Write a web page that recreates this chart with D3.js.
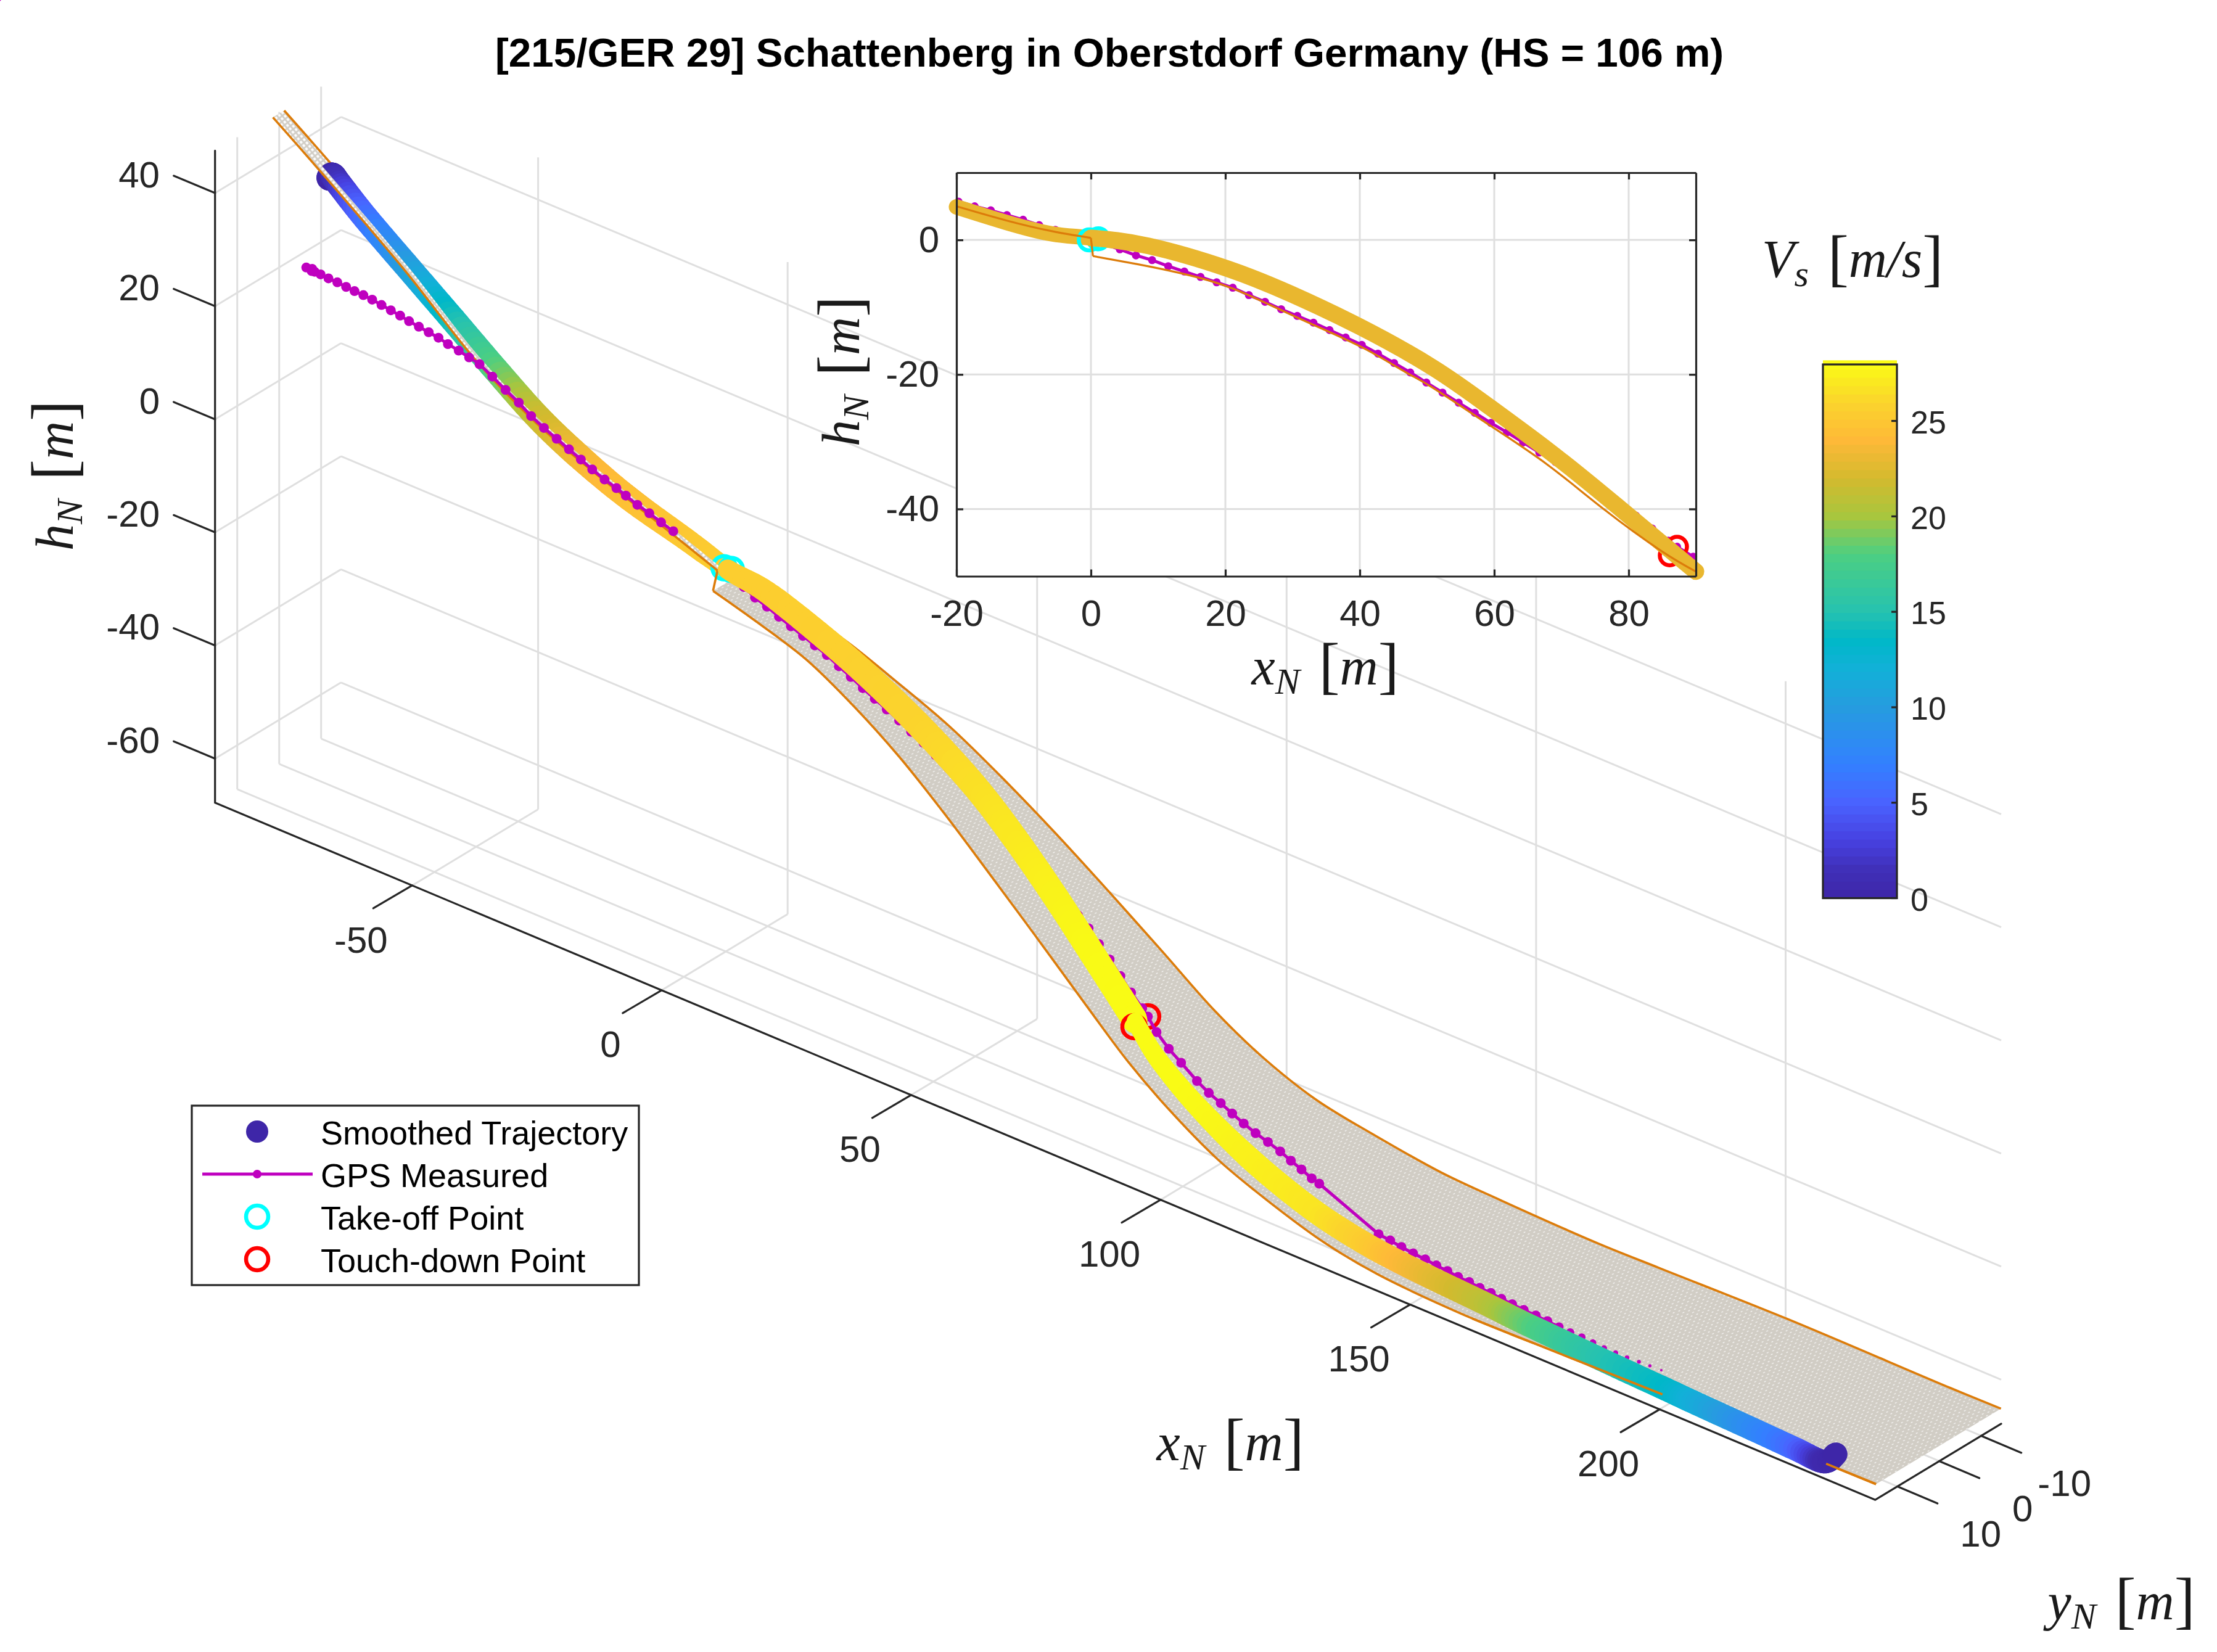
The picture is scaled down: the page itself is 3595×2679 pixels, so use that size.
<!DOCTYPE html>
<html>
<head>
<meta charset="utf-8">
<script src="https://cdn.jsdelivr.net/npm/d3@7"></script>
<style>
    body { margin: 0; background: #fff; }
    text { font-family: "Liberation Sans", Arial, sans-serif; }
    .math { font-family: "Liberation Serif", serif; }
</style>
</head>
<body>
<div id="chart"></div>
<script>
// axis limits and ticks of the 3d view
var xLimits = [-89.5, 243.2];
var yLimits = [15.3, -14.75];
var zLimits = [-67.8, 47.5];
var xTicks = [-50, 0, 50, 100, 150, 200];
var yTicks = [10, 0, -10];
var zTicks = [40, 20, 0, -20, -40, -60];

// inrun of the hill
var inrunX = [-89.5, -79.7, -63, -48.8, -36.9, -24.3, -12.5, -0.4];
var inrunZ = [47.2, 41, 29.9, 19.3, 12.8, 8, 4.2, 0.1];
var inrunYNear = 1.5;
var inrunYStrip = 0.5;
var inrunYFar = -1.2;

// landing hill and outrun
var hillX = [0.3, 10, 20, 30, 40, 50, 60, 70, 80, 90, 98.6, 109, 120, 132.1, 143.4, 162.3, 174.9, 200.4, 233.2, 243.2];
var hillZ = [-2.4, -4.3, -6.7, -11.2, -15.8, -21.4, -27.6, -34.8, -42, -49.3, -54.3, -58.5, -61.4, -64, -65.1, -65.8, -65.6, -65.1, -65.2, -65.1];
var hillYNear = [3.4, 4, 4.6, 5, 6.2, 7.5, 8.8, 9.5, 10.3, 10.9, 11.4, 12.5, 13.5, 14.3, 15, 15.1, 15.1, 15.1, 15.1, 15.1];
var hillYFar = [-2.8, -3.3, -3.9, -5, -5.8, -6.4, -7, -8, -8.8, -9.6, -10.3, -11, -12.2, -13.5, -14.3, -14.7, -14.7, -14.7, -14.7, -14.7];

// smoothed trajectory
var trajX = [-79.2, -78.8, -77.5, -72.2, -63.4, -54.7, -46.1, -37.4, -28.8, -19.3, -8.2, 0.4, 8.6, 20.4, 29.7, 40, 50.9, 59.4, 67.9, 76.4, 84.8, 86.1, 90.8, 97.4, 104.4, 112.1, 119.7, 127.5, 135.9, 143.6, 152.2, 161, 168.5, 177.8, 186.9, 199.8, 206.9, 216.6, 226.2, 231.8, 232.7];
var trajY = [0.3, 0, 0, 0, 0, 0, 0, 0, 0, 0, 0, 0, 0.4, 0.87, 0.9, 1, 1.3, 1.8, 2.7, 3.7, 4.6, 4.8, 5.76, 6.84, 7.71, 8.67, 9.23, 9.66, 9.86, 10.13, 10.44, 10.5, 11.15, 11.68, 12.46, 13.57, 13.8, 14.07, 14.25, 14.08, 12.2];
var trajZ = [39.8, 40.2, 39.2, 35.2, 29.4, 23.7, 18, 12.6, 8.6, 5.1, 2.2, -0.1, -0.9, -4.3, -8, -12.9, -19, -24.9, -31.2, -38, -45, -46.1, -49.8, -53.2, -56.2, -58.8, -61.1, -63, -64.4, -65, -65.3, -65.7, -65.7, -65.7, -65.5, -65.1, -65.2, -65.3, -65.5, -65.8, -65];
var trajV = [0, 0, 1.5, 5.5, 10, 14, 18, 21.5, 23.5, 24.5, 25, 25.5, 25.5, 25.6, 25.7, 25.9, 26.5, 27, 27.5, 27.9, 28, 28, 28, 28, 27.8, 27.5, 27.2, 26.8, 25.5, 24, 22.5, 21, 19, 16.5, 15, 13.5, 11.5, 8.5, 5.5, 0.5, 0];

// gps track
var gpsX = [-79.2, -78.2, -78, -77.6, -76.5, -75, -73.4, -71.8, -70.2, -68.6, -67, -65.3, -63.6, -61.9, -60.2, -58.4, -56.6, -54.8, -53, -51, -49, -47, -44.6, -42.2, -39.8, -37.5, -35.1, -32.8, -30.5, -28.2, -26, -23.7, -21.5, -19.7, -17.3, -14.9, -12.5, -10.1, -7.7, -5.3, -2.9, -0.5, 1.9, 4.3, 6.7, 9.1, 11.5, 13.9, 16.3, 18.7, 21.1, 23.5, 25.9, 28.3, 30.7, 33.1, 35.5, 37.9, 40.3, 42.7, 45.1, 47.5, 49.9, 52.3, 54.7, 57.1, 59.5, 61.9, 64.3, 66.7, 69.1, 71.5, 73.9, 76.3, 78.7, 81.1, 83.5, 85.9, 87.2, 89.6, 91.9, 94.2, 97.2, 99.5, 101.8, 104.1, 106.4, 108.7, 111, 113.3, 115.6, 117.9, 120.2, 121.8, 135.7, 138.2, 140.7, 143.2, 145.8, 148.2, 150.5, 152.8, 155.1, 157.4, 159.7, 162, 164.3, 166.8, 169.3, 171.8, 174.3, 176.7, 179.1, 181.5, 183.9, 186.3, 188.6, 190.9, 193.1, 195.3, 197.4];
var gpsY = [5.8, 5.7, 5.8, 5.7, 5.6, 5.5, 5.3, 5.1, 5, 4.8, 4.6, 4.4, 4.2, 4, 3.9, 3.7, 3.5, 3.3, 3.2, 3, 2.9, 2.8, 2.6, 2.3, 2, 1.8, 1.6, 1.3, 1.1, 1, 0.9, 0.7, 0.5, 0.4, 0.5, 0.5, 0.55, 0.5, 0.5, 0.4, 0.3, 0.3, 0.5, 0.8, 1, 1, 1, 1, 1, 1, 1, 1, 1, 1, 1, 1, 0.9, 0.9, 0.8, 0.8, 0.7, 0.7, 0.6, 0.6, 0.5, 0.5, 0.4, 0.4, 0.4, 0.4, 0.7, 1.1, 1.4, 1.8, 2.1, 2.4, 2.7, 2.9, 3.1, 3.9, 3.7, 3.5, 3.3, 3.2, 3.1, 3.1, 3.1, 3, 2.8, 2.6, 2.8, 3, 3.3, 3.4, 5.8, 6, 6.3, 6.5, 6.7, 6.9, 7, 7.2, 7.3, 7.5, 7.6, 7.8, 8, 8.2, 8.3, 8.5, 8.7, 8.9, 9, 9.2, 9.4, 9.5, 9.5, 9.4, 9.4, 9.3, 9.3];
var gpsZ = [26.4, 26.1, 26.6, 26.2, 26.1, 25.9, 25.7, 25.4, 25.2, 25, 24.7, 24.3, 23.9, 23.5, 23.1, 22.7, 22.3, 21.9, 21.4, 20.9, 20.4, 19.9, 18.5, 16.9, 15.4, 13.8, 12.5, 11.3, 10.2, 9.2, 8.2, 7.2, 6.4, 5.7, 5, 4.4, 3.7, 3, 2.2, 1.5, 0.8, 0, -0.6, -1.4, -2.3, -3, -3.9, -4.7, -5.5, -6.3, -7.1, -8.2, -9.2, -10.3, -11.3, -12.3, -13.4, -14.5, -15.6, -16.9, -18.3, -19.7, -21.2, -22.7, -24.2, -25.7, -27.2, -28.6, -30.1, -31.6, -33, -34.4, -35.7, -37.4, -39.1, -41, -42.9, -44.7, -45.6, -47.1, -49.3, -51, -53.2, -54.5, -55.5, -56.5, -57.4, -58.3, -59.1, -60, -60.7, -61.3, -61.9, -62.2, -64.9, -65, -65.1, -65.2, -65.2, -65.3, -65.4, -65.5, -65.5, -65.6, -65.6, -65.7, -65.7, -65.7, -65.7, -65.7, -65.7, -65.7, -65.6, -65.6, -65.6, -65.5, -65.5, -65.4, -65.3, -65.3];

// event points [x, y, z]
var takeoffPoints = [[-0.25, 0.1, 0], [1.1, 0, 0.17]];
var touchdownGps = [87.2, 3.1, -45.6];
var touchdownSmooth = [86.1, 5.1, -46.9];

// inset profile
var insetXTicks = [-20, 0, 20, 40, 60, 80];
var insetZTicks = [0, -20, -40];
var insetInrunX = [-20, -12.6, -5.8, 0];
var insetInrunZ = [5, 2.9, 1.3, 0.3];
var insetHillX = [0.3, 6.9, 13.6, 21.3, 30.6, 40, 46.7, 50.9, 59.4, 67.9, 76.4, 84.8, 90];
var insetHillZ = [-2.4, -3.6, -5, -7.3, -11.5, -15.8, -19.6, -22, -27.6, -33.4, -40.1, -46.2, -49.3];
var insetBandX = [-20, -12.6, -5.8, 0, 8.6, 20.4, 29.7, 40, 50.9, 59.4, 67.9, 76.4, 84.8, 90];
var insetBandZ = [4.9, 2.6, 0.9, 0.3, -0.9, -4.3, -8, -12.9, -19, -24.9, -31.2, -38, -45, -49.3];

// colour map of the speed
var speedStops = [0, 1.5, 3, 5, 7, 10, 12, 13.5, 15, 18, 20, 22, 24, 26, 28];
var speedColors = ["#3e26a8", "#4030b8", "#4740e0", "#4a62ff", "#3380ff", "#269cdf", "#12b0d8", "#00b8c8", "#26c2b0", "#4ccf82", "#a8c63e", "#d4ba2e", "#feb938", "#fbd52c", "#f9fb15"];
var colorbarTicks = [0, 5, 10, 15, 20, 25];

var legendLabels = ["Smoothed Trajectory", "GPS Measured", "Take-off Point", "Touch-down Point"];

var width = 3595;
var height = 2679;
var purple = "#bf00bf";
var orange = "#dc7c0a";
var gridColor = "#dfdfdf";
var axisColor = "#262626";

var svg = d3.select("#chart").append("svg")
    .attr("width", width)
    .attr("height", height)
    .attr("fill", axisColor)
    .style("display", "block");
var defs = svg.append("defs");

// surface textures
var hillPattern = defs.append("pattern")
    .attr("id", "hillMesh")
    .attr("patternUnits", "userSpaceOnUse")
    .attr("width", 7.2)
    .attr("height", 6.4)
    .attr("patternTransform", "rotate(23)");
hillPattern.append("rect").attr("width", 7.2).attr("height", 6.4).attr("fill", "#d1cdc5");
hillPattern.append("rect").attr("x", 2).attr("y", 2.6).attr("width", 3.2).attr("height", 1.2)
    .attr("fill", "#fff").attr("opacity", 0.85)
    .attr("transform", "rotate(-48 3.6 3.2)");

var inrunPattern = defs.append("pattern")
    .attr("id", "inrunMesh")
    .attr("patternUnits", "userSpaceOnUse")
    .attr("width", 7)
    .attr("height", 6.6)
    .attr("patternTransform", "rotate(51)");
inrunPattern.append("rect").attr("width", 7).attr("height", 6.6).attr("fill", "#d1cdc5");
inrunPattern.append("rect").attr("x", 1.4).attr("y", 1.4).attr("width", 4.2).attr("height", 3.8).attr("fill", "#fff");

// orthographic view: each scale gives the share along one box edge
var corner = [348.7, 1301.7];
var xEdge = [2692, 1130.6];
var yEdge = [204.3, -123.4];
var zEdge = [0, -1057.4];
var xScale = d3.scaleLinear().domain(xLimits).range([0, 1]);
var yScale = d3.scaleLinear().domain(yLimits).range([0, 1]);
var zScale = d3.scaleLinear().domain(zLimits).range([0, 1]);

function project(x, y, z) {
    var a = xScale(x), b = yScale(y), c = zScale(z);
    return [
        corner[0] + a * xEdge[0] + b * yEdge[0] + c * zEdge[0],
        corner[1] + a * xEdge[1] + b * yEdge[1] + c * zEdge[1]
    ];
}

var smooth = d3.line().curve(d3.curveCatmullRom.alpha(0.5));
var straight = d3.line();
var speedColor = d3.scaleLinear().domain(speedStops).range(speedColors);

function segment(g, a, b) {
    g.append("line")
        .attr("x1", a[0]).attr("y1", a[1])
        .attr("x2", b[0]).attr("y2", b[1])
        .attr("stroke", gridColor)
        .attr("stroke-width", 3);
}

// back walls and floor
var grid = svg.append("g");
var xLo = xLimits[0], xHi = xLimits[1], yNear = yLimits[0], yFar = yLimits[1], zLo = zLimits[0], zHi = zLimits[1];
zTicks.forEach(function(z) {
    segment(grid, project(xLo, yNear, z), project(xLo, yFar, z));
    segment(grid, project(xLo, yFar, z), project(xHi, yFar, z));
});
yTicks.forEach(function(y) {
    segment(grid, project(xLo, y, zLo), project(xLo, y, zHi));
    segment(grid, project(xLo, y, zLo), project(xHi, y, zLo));
});
xTicks.forEach(function(x) {
    segment(grid, project(x, yFar, zLo), project(x, yFar, zHi));
    segment(grid, project(x, yNear, zLo), project(x, yFar, zLo));
});

// box edges and tick marks
var axes = svg.append("g")
    .attr("stroke", axisColor)
    .attr("stroke-width", 3.2)
    .attr("fill", "none")
    .attr("stroke-linecap", "round");
axes.append("path").attr("d", straight([project(xLo, yNear, zHi), project(xLo, yNear, zLo), project(xHi, yNear, zLo), project(xHi, yFar, zLo)]));

var labels3d = svg.append("g").attr("font-size", 60);

zTicks.forEach(function(z) {
    var p = project(xLo, yNear, z);
    axes.append("line").attr("x1", p[0]).attr("y1", p[1]).attr("x2", p[0] - 67).attr("y2", p[1] - 28);
    labels3d.append("text").attr("x", 259).attr("y", p[1] - 31).attr("dy", "0.36em")
        .attr("text-anchor", "end").text(z);
});
xTicks.forEach(function(x) {
    var p = project(x, yNear, zLo);
    axes.append("line").attr("x1", p[0]).attr("y1", p[1]).attr("x2", p[0] - 63).attr("y2", p[1] + 37);
    labels3d.append("text").attr("x", p[0] - 83).attr("y", p[1] + 87).attr("dy", "0.36em")
        .attr("text-anchor", "middle").text(x);
});
yTicks.forEach(function(y) {
    var p = project(xHi, y, zLo);
    axes.append("line").attr("x1", p[0]).attr("y1", p[1]).attr("x2", p[0] + 65).attr("y2", p[1] + 27.5);
    labels3d.append("text").attr("x", p[0] + 135).attr("y", p[1] + 76).attr("dy", "0.36em")
        .attr("text-anchor", "middle").text(y);
});

// hill geometry on screen
var inrunNear = inrunX.map(function(x, i) { return project(x, inrunYNear, inrunZ[i]); });
var inrunStrip = inrunX.map(function(x, i) { return project(x, inrunYStrip, inrunZ[i]); });
var inrunFar = inrunX.map(function(x, i) { return project(x, inrunYFar, inrunZ[i]); });
var hillNear = hillX.map(function(x, i) { return project(x, hillYNear[i], hillZ[i]); });
var hillFar = hillX.map(function(x, i) { return project(x, hillYFar[i], hillZ[i]); });

function band(a, b) {
    return smooth(a) + "L" + smooth(b.slice().reverse()).slice(1) + "Z";
}
function edge(g, pts) {
    g.append("path").attr("d", smooth(pts)).attr("fill", "none")
        .attr("stroke", orange).attr("stroke-width", 3.6);
}

var hillLayer = svg.append("g");
hillLayer.append("path").attr("d", band(hillNear, hillFar)).attr("fill", "url(#hillMesh)");
edge(hillLayer, hillNear);
edge(hillLayer, hillFar);
hillLayer.append("path").attr("d", band(inrunNear, inrunFar)).attr("fill", "url(#inrunMesh)");
edge(hillLayer, inrunFar);

function ring(g, p, color, r) {
    g.append("circle").attr("cx", p[0]).attr("cy", p[1]).attr("r", r)
        .attr("fill", "none").attr("stroke", color).attr("stroke-width", 6.5);
}

// gps track pieces
var gpsPoints = gpsX.map(function(x, i) { return {x: x, p: project(x, gpsY[i], gpsZ[i])}; });
var gpsSize = d3.scaleLinear().domain([172, 197.4]).range([8, 1.5]).clamp(true);
function drawGps(g, pts) {
    var lined = pts.filter(function(d) { return d.x <= 176; });
    g.append("path").attr("d", straight(lined.map(function(d) { return d.p; })))
        .attr("fill", "none").attr("stroke", purple).attr("stroke-width", 5);
    g.selectAll("circle.gps")
        .data(pts)
        .enter()
        .append("circle")
        .attr("class", "gps")
        .attr("cx", function(d) { return d.p[0]; })
        .attr("cy", function(d) { return d.p[1]; })
        .attr("r", function(d) { return gpsSize(d.x); })
        .attr("fill", purple);
}

// trajectory is painted piece by piece, later pieces cover earlier ones
var trajPoints = trajX.map(function(x, i) { return project(x, trajY[i], trajZ[i]); });

// catmull-rom position between two nodes, only to round the drawn band
function trajAt(i, t) {
    var n = trajPoints.length - 1;
    var p0 = trajPoints[Math.max(i - 1, 0)], p1 = trajPoints[i], p2 = trajPoints[i + 1], p3 = trajPoints[Math.min(i + 2, n)];
    return [0, 1].map(function(k) {
        return 0.5 * (2 * p1[k] + (p2[k] - p0[k]) * t
            + (2 * p0[k] - 5 * p1[k] + 4 * p2[k] - p3[k]) * t * t
            + (3 * p1[k] - p0[k] - 3 * p2[k] + p3[k]) * t * t * t);
    });
}

// the marks look narrower next to the rings and on the outrun
var trajWidth = d3.scaleLinear()
    .domain([-80, -30, -5, 0.4, 12, 40, 86, 86.2, 92, 112, 240])
    .range([42, 42, 36, 32, 38, 42, 42, 28, 30, 37, 38]);
function drawTraj(g, from, to) {
    var steps = 10;
    for (var i = from; i < to; i++) {
        for (var s = 0; s < steps; s++) {
            var a = trajAt(i, s / steps), b = trajAt(i, (s + 1) / steps);
            var f = (s + 0.5) / steps;
            g.append("line")
                .attr("x1", a[0]).attr("y1", a[1]).attr("x2", b[0]).attr("y2", b[1])
                .attr("stroke", speedColor(trajV[i] + (trajV[i + 1] - trajV[i]) * f))
                .attr("stroke-width", trajWidth(trajX[i] + (trajX[i + 1] - trajX[i]) * f))
                .attr("stroke-linecap", "round");
        }
    }
}

var takeoffIndex = trajX.indexOf(0.4);
var touchIndex = trajX.indexOf(86.1);
var gpsSplit = gpsX.findIndex(function(x) { return x > -8; });
var flight = svg.append("g");

ring(flight, project(touchdownGps[0], touchdownGps[1], touchdownGps[2]), "#ff0000", 18.5);
drawGps(flight.append("g"), gpsPoints.slice(gpsSplit));
drawTraj(flight, 0, takeoffIndex);
takeoffPoints.forEach(function(p) { ring(flight, project(p[0], p[1], p[2]), "#00ffff", 19); });

// near half of the inrun stays on top of the trajectory
flight.append("path").attr("d", band(inrunNear, inrunStrip)).attr("fill", "url(#inrunMesh)");
edge(flight, inrunNear);
flight.append("path").attr("d", straight([inrunNear[inrunNear.length - 1], hillNear[0]]))
    .attr("fill", "none").attr("stroke", orange).attr("stroke-width", 3.6);
drawGps(flight.append("g"), gpsPoints.slice(0, gpsSplit));

drawTraj(flight, takeoffIndex, touchIndex);
ring(flight, project(touchdownSmooth[0], touchdownSmooth[1], touchdownSmooth[2]), "#ff0000", 19);
drawTraj(flight, touchIndex, trajX.length - 1);

// short pieces of the near edge show through the trajectory in the outrun
edge(flight, hillNear.slice(15, 18));
edge(flight, hillNear.slice(18));

// inset
var insetLeft = 1551, insetRight = 2750, insetTop = 280, insetBottom = 934.5;
var insetX = d3.scaleLinear().domain([-20, 90]).range([insetLeft, insetRight]);
var insetZ = d3.scaleLinear().domain([-50, 10]).range([insetBottom, insetTop]);
var inset = svg.append("g");
inset.append("rect").attr("x", insetLeft).attr("y", insetTop)
    .attr("width", insetRight - insetLeft).attr("height", insetBottom - insetTop).attr("fill", "#fff");
insetXTicks.forEach(function(x) {
    inset.append("line").attr("x1", insetX(x)).attr("x2", insetX(x)).attr("y1", insetTop).attr("y2", insetBottom)
        .attr("stroke", gridColor).attr("stroke-width", 3);
});
insetZTicks.forEach(function(z) {
    inset.append("line").attr("y1", insetZ(z)).attr("y2", insetZ(z)).attr("x1", insetLeft).attr("x2", insetRight)
        .attr("stroke", gridColor).attr("stroke-width", 3);
});

var insetLine = d3.line().x(function(d) { return insetX(d[0]); }).y(function(d) { return insetZ(d[1]); });
var insetCurve = d3.line().curve(d3.curveNatural).x(function(d) { return insetX(d[0]); }).y(function(d) { return insetZ(d[1]); });
function pairs(xs, zs) {
    return xs.map(function(x, i) { return [x, zs[i]]; });
}
var insetGps = pairs(gpsX, gpsZ).filter(function(d) { return d[0] >= -20 && d[0] <= 90; });
inset.append("path").attr("d", insetLine(insetGps)).attr("fill", "none").attr("stroke", purple).attr("stroke-width", 5);
inset.selectAll("circle.gpsInset")
    .data(insetGps)
    .enter()
    .append("circle")
    .attr("class", "gpsInset")
    .attr("cx", function(d) { return insetX(d[0]); })
    .attr("cy", function(d) { return insetZ(d[1]); })
    .attr("r", 6.5)
    .attr("fill", purple);
ring(inset, [insetX(touchdownGps[0]), insetZ(touchdownGps[2])], "#ff0000", 16);
ring(inset, [insetX(touchdownSmooth[0]), insetZ(touchdownSmooth[2])], "#ff0000", 16);
inset.append("path")
    .attr("d", insetCurve(pairs(insetBandX.slice(0, 5), insetBandZ.slice(0, 5))))
    .attr("fill", "none").attr("stroke", "#e9b72f").attr("stroke-width", 25)
    .attr("stroke-linecap", "round");
takeoffPoints.forEach(function(p) { ring(inset, [insetX(p[0]), insetZ(p[2])], "#00ffff", 17); });
inset.append("path")
    .attr("d", insetCurve(pairs(insetBandX.slice(3), insetBandZ.slice(3))))
    .attr("fill", "none").attr("stroke", "#e9b72f").attr("stroke-width", 27)
    .attr("stroke-linecap", "round");
inset.append("path").attr("d", insetCurve(pairs(insetInrunX, insetInrunZ)))
    .attr("fill", "none").attr("stroke", orange).attr("stroke-width", 3.2);
inset.append("path").attr("d", insetLine([[0, 0.3], [0.3, -2.4]]))
    .attr("fill", "none").attr("stroke", orange).attr("stroke-width", 3.2);
inset.append("path").attr("d", insetCurve(pairs(insetHillX, insetHillZ)))
    .attr("fill", "none").attr("stroke", orange).attr("stroke-width", 3.2);

function styleAxis(g, size) {
    g.selectAll("path,line").attr("stroke", axisColor).attr("stroke-width", 3.2);
    g.selectAll("text").attr("font-size", size).attr("fill", axisColor)
        .style("font-family", '"Liberation Sans", Arial, sans-serif');
}
var labelFormat = function(d) { return d; };
var insetAxes = [
    d3.axisBottom(insetX).tickValues(insetXTicks).tickSize(-11).tickSizeOuter(0).tickPadding(38).tickFormat(labelFormat),
    d3.axisLeft(insetZ).tickValues(insetZTicks).tickSize(-11).tickSizeOuter(0).tickPadding(28).tickFormat(labelFormat),
    d3.axisTop(insetX).tickValues(insetXTicks).tickSize(-11).tickSizeOuter(0).tickFormat(""),
    d3.axisRight(insetZ).tickValues(insetZTicks).tickSize(-11).tickSizeOuter(0).tickFormat("")
];
var insetShift = [[0, insetBottom], [insetLeft, 0], [0, insetTop], [insetRight, 0]];
insetAxes.forEach(function(axis, i) {
    inset.append("g")
        .attr("transform", "translate(" + insetShift[i][0] + "," + insetShift[i][1] + ")")
        .call(axis)
        .call(styleAxis, 60);
});

// colorbar
var barLeft = 2956, barRight = 3076, barTop = 591, barBottom = 1456.5;
var barScale = d3.scaleLinear().domain([0, 27.96]).range([barBottom, barTop]);
var bar = svg.append("g");
var barLevels = d3.range(0, 27.96, 0.44);
bar.selectAll("rect.level")
    .data(barLevels)
    .enter()
    .append("rect")
    .attr("class", "level")
    .attr("x", barLeft)
    .attr("width", barRight - barLeft)
    .attr("y", function(d) { return barScale(d + 0.44) - 0.5; })
    .attr("height", function(d) { return barScale(d) - barScale(d + 0.44) + 1; })
    .attr("fill", function(d) { return speedColor(d + 0.22); });
bar.append("rect").attr("x", barLeft).attr("y", barTop)
    .attr("width", barRight - barLeft).attr("height", barBottom - barTop)
    .attr("fill", "none").attr("stroke", axisColor).attr("stroke-width", 3.2);
bar.append("g")
    .attr("transform", "translate(" + barRight + ",3)")
    .call(d3.axisRight(barScale).tickValues(colorbarTicks).tickSize(0).tickPadding(22))
    .call(styleAxis, 52)
    .select(".domain").remove();
colorbarTicks.forEach(function(v) {
    bar.append("line").attr("x1", barRight - 9).attr("x2", barRight)
        .attr("y1", barScale(v)).attr("y2", barScale(v))
        .attr("stroke", axisColor).attr("stroke-width", 3.2);
});

// legend
var legend = svg.append("g");
var legendRows = [1835, 1904, 1973, 2042];
legend.append("rect").attr("x", 311).attr("y", 1793).attr("width", 725).attr("height", 291)
    .attr("fill", "#fff").attr("stroke", axisColor).attr("stroke-width", 3.2);
legendLabels.forEach(function(label, i) {
    legend.append("text").attr("x", 520).attr("y", legendRows[i] + 2).attr("dy", "0.36em")
        .attr("font-size", 54).attr("fill", "#000").text(label);
});
legend.append("circle").attr("cx", 417).attr("cy", legendRows[0]).attr("r", 18).attr("fill", "#3e26a8");
legend.append("line").attr("x1", 328).attr("x2", 507).attr("y1", legendRows[1]).attr("y2", legendRows[1])
    .attr("stroke", purple).attr("stroke-width", 5);
legend.append("circle").attr("cx", 417).attr("cy", legendRows[1]).attr("r", 7).attr("fill", purple);
ring(legend, [417, legendRows[2]], "#00ffff", 18);
ring(legend, [417, legendRows[3]], "#ff0000", 18);

// title and math labels
svg.append("text").attr("x", 1799).attr("y", 108).attr("text-anchor", "middle")
    .attr("font-size", 65.6).attr("font-weight", "bold").attr("fill", "#000")
    .text("[215/GER 29] Schattenberg in Oberstdorf Germany (HS = 106 m)");

function mathLabel(x, y, symbol, sub, unit, size, rotate) {
    var t = svg.append("text").attr("class", "math")
        .attr("text-anchor", "middle")
        .attr("font-size", size)
        .attr("fill", "#1a1a1a")
        .attr("transform", "translate(" + x + "," + y + ")" + (rotate ? " rotate(-90)" : ""));
    t.append("tspan").attr("font-style", "italic").text(symbol);
    t.append("tspan").attr("font-style", "italic")
        .attr("font-size", size * 0.7).attr("dy", size * 0.18).text(sub);
    t.append("tspan").attr("dy", -size * 0.18 + size * 0.04).attr("dx", size * 0.36)
        .attr("font-size", size * 1.18).text("[");
    t.append("tspan").attr("dy", -size * 0.04).attr("font-style", "italic").text(unit);
    t.append("tspan").attr("dy", size * 0.04).attr("font-size", size * 1.18).text("]");
}
mathLabel(1995, 2368, "x", "N", "m", 86, false);
mathLabel(3440, 2626, "y", "N", "m", 86, false);
mathLabel(118, 771, "h", "N", "m", 86, true);
mathLabel(1393, 602, "h", "N", "m", 86, true);
mathLabel(2149, 1110, "x", "N", "m", 86, false);
mathLabel(3004, 449, "V", "s", "m/s", 86, false);
</script>
</body>
</html>
